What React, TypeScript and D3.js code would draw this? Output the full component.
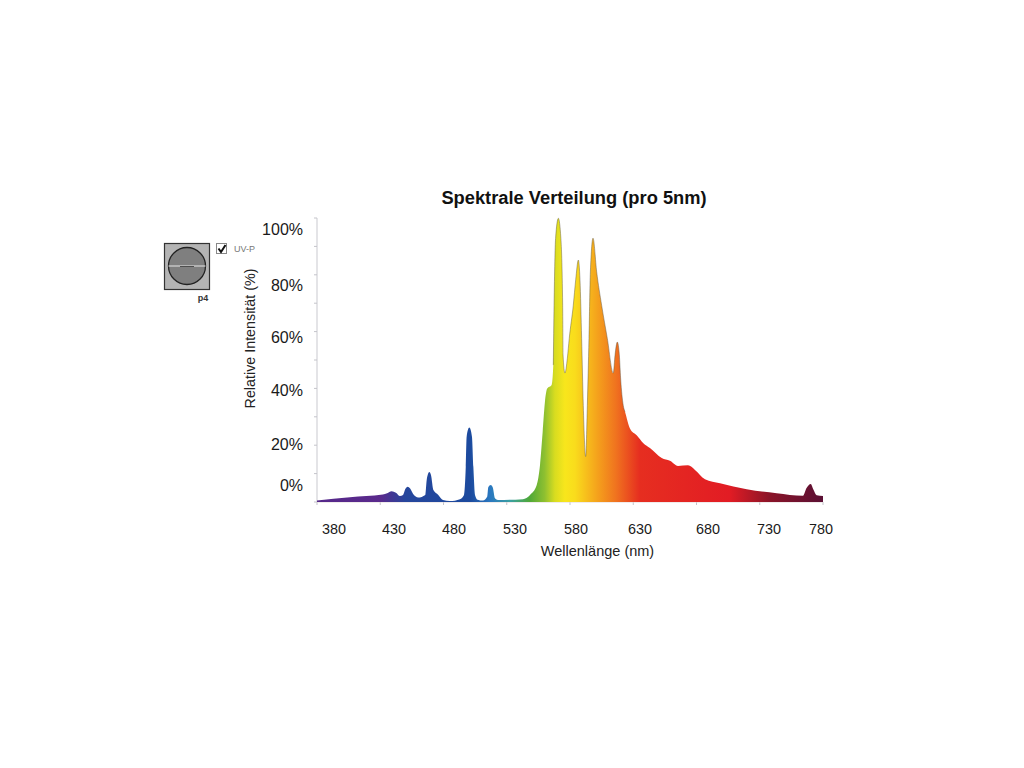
import React from "react";
import * as d3 from "d3";

const wavelengths = [380,406,432,435.4,439,442.4,445.6,448,449.7,451.7,453.5,456,460,465.6,466.7,467.5,468.8,470.1,472,475.9,479.6,485,493,496.2,497.6,498.3,500.4,502.5,503.6,504.9,507,511.2,514.6,515.4,517.3,518.9,520.7,523,542.8,548.4,553.7,556.3,558.4,560.2,562,565.5,566.8,567.4,568.6,570.8,572.8,574.2,574.5,576,577.9,579.4,582.6,584.5,586.6,587.9,589.2,590.5,592.4,593.7,595,596.1,598.2,601.1,605,609.5,614.2,615.6,617.4,619,620,622.1,623.5,627.4,632.7,638,643.2,652.5,659,665.4,673.3,678.8,686.7,698.6,719.7,743.4,764.2,767,770.3,772.3,775,780];
const intensity = [0.5,1.7,2.6,3.1,3.8,3.3,2.1,2.5,4.5,5.4,4.8,2.8,1.6,2.5,7.7,9.5,10.6,9.5,4.2,2.5,0.7,0.35,1,2.5,12.4,23,26.2,23,12.4,2.5,0.8,0.5,1.9,5.2,6,5.2,1.3,0.7,1,2.5,6,13,24.7,35.3,40,41.2,48.2,69.3,92.8,99.9,92.8,69.3,51.8,45.4,50.6,57.6,69.3,78.2,85.2,78.2,57.6,34,16,34,57.6,81,92.9,81,69.3,57.6,45.4,51.8,56.3,51.8,43.7,34,31.8,25.9,23.5,20.7,19,15.5,14.5,12.7,12.9,11.3,8,6.6,4.5,3.1,2.2,4.9,6.3,4.5,2.4,2.1];
const xTicks = [380,430,480,530,580,630,680,730,780];
const yTicks = [0,10,20,30,40,50,60,70,80,90,100];
const xLabels = ["380","430","480","530","580","630","680","730","780"];
const xLabelCenters = [334,394,454,515,576,640,708,769,821];
const yLabels = ["0%","20%","40%","60%","80%","100%"];
const yLabelCenters = [485,444,390,337,285,229];
const gradientStops: [number,string][] = [[380,"#55288a"],[430,"#5a2a8c"],[450,"#26469c"],[501,"#1c4a9e"],[517,"#2a78c0"],[533,"#3aa0a0"],[548,"#4fa838"],[560,"#8fc030"],[568,"#d8dc20"],[576,"#f8e61c"],[584,"#f9dc1c"],[604,"#f49a1c"],[616,"#f0741f"],[635,"#e62e20"],[706,"#e21c24"],[738,"#8a1428"],[780,"#5a1034"]];

export default function App() {
  const x = d3.scaleLinear().domain([380,780]).range([317,823]);
  const y = d3.scaleLinear().domain([0,100]).range([502,218]);
  const pts: [number,number][] = wavelengths.map((w,i)=>[w,intensity[i]]);
  const area = d3.area<[number,number]>().x(d=>x(d[0])).y0(y(0)).y1(d=>y(d[1])).curve(d3.curveMonotoneX);
  const line = d3.line<[number,number]>().x(d=>x(d[0])).y(d=>y(d[1])).curve(d3.curveMonotoneX);
  const font = "'Liberation Sans', Arial, sans-serif";
  return (
    <svg width={1024} height={768} style={{position:"absolute",left:0,top:0,background:"#fff"}} fontFamily={font}>
      <defs>
        <linearGradient id="spec" gradientUnits="userSpaceOnUse" x1={x(380)} x2={x(780)} y1={0} y2={0}>
          {gradientStops.map(([w,c])=><stop key={w} offset={(w-380)/400} stopColor={c}/>)}
        </linearGradient>
      </defs>
      <text x={574} y={204} textAnchor="middle" fontSize={18.3} fontWeight="bold" fill="#111">Spektrale Verteilung (pro 5nm)</text>
      <line x1={317} x2={317} y1={y(100)} y2={y(0)} stroke="#c9c9cf" strokeWidth={1}/>
      {yTicks.map(t=><line key={t} x1={314} x2={317} y1={y(t)} y2={y(t)} stroke="#c4c4ca"/>)}
      {xTicks.map(t=><line key={t} x1={x(t)} x2={x(t)} y1={502} y2={505} stroke="#c4c4ca"/>)}
      <line x1={317} x2={823} y1={502} y2={502} stroke="#e2d8d8"/>
      <path d={area(pts)!} fill="url(#spec)"/>
      <path d={line(pts.filter(d=>d[0]>=566.8&&d[0]<=625))!} fill="none" stroke="#5f5640" strokeOpacity={0.5} strokeWidth={0.9}/>
      {yLabels.map((l,i)=><text key={l} x={303} y={yLabelCenters[i]+5.5} textAnchor="end" fontSize={16} fill="#1a1a1a">{l}</text>)}
      {xLabels.map((l,i)=><text key={l} x={xLabelCenters[i]} y={534} textAnchor="middle" fontSize={14.4} fill="#1a1a1a">{l}</text>)}
      <text x={597.5} y={556} textAnchor="middle" fontSize={14.5} fill="#222">Wellenlänge (nm)</text>
      <text transform="translate(255,338.5) rotate(-90)" textAnchor="middle" fontSize={14.3} fill="#222">Relative Intensität (%)</text>
      <rect x={164.5} y={243.5} width={45} height={46} fill="#b4b4b4" stroke="#333" strokeWidth={1.2}/>
      <circle cx={187} cy={266} r={18.5} fill="#7f7f7f" stroke="#222" strokeWidth={1.3}/>
      <line x1={168.5} x2={205.5} y1={266} y2={266} stroke="#e8e8e8" strokeWidth={1}/>
      <line x1={180} x2={194} y1={266.5} y2={266.5} stroke="#333" strokeWidth={0.8}/>
      <text x={203} y={301} textAnchor="middle" fontSize={9} fontWeight="bold" fill="#333">p4</text>
      <rect x={216.5} y={243.5} width={10} height={10} fill="#fff" stroke="#888"/>
      <path d="M218.5 248.5 L221 252 L225.5 245" fill="none" stroke="#111" strokeWidth={2}/>
      <text x={234} y={252} fontSize={9} fill="#777">UV-P</text>
    </svg>
  );
}
